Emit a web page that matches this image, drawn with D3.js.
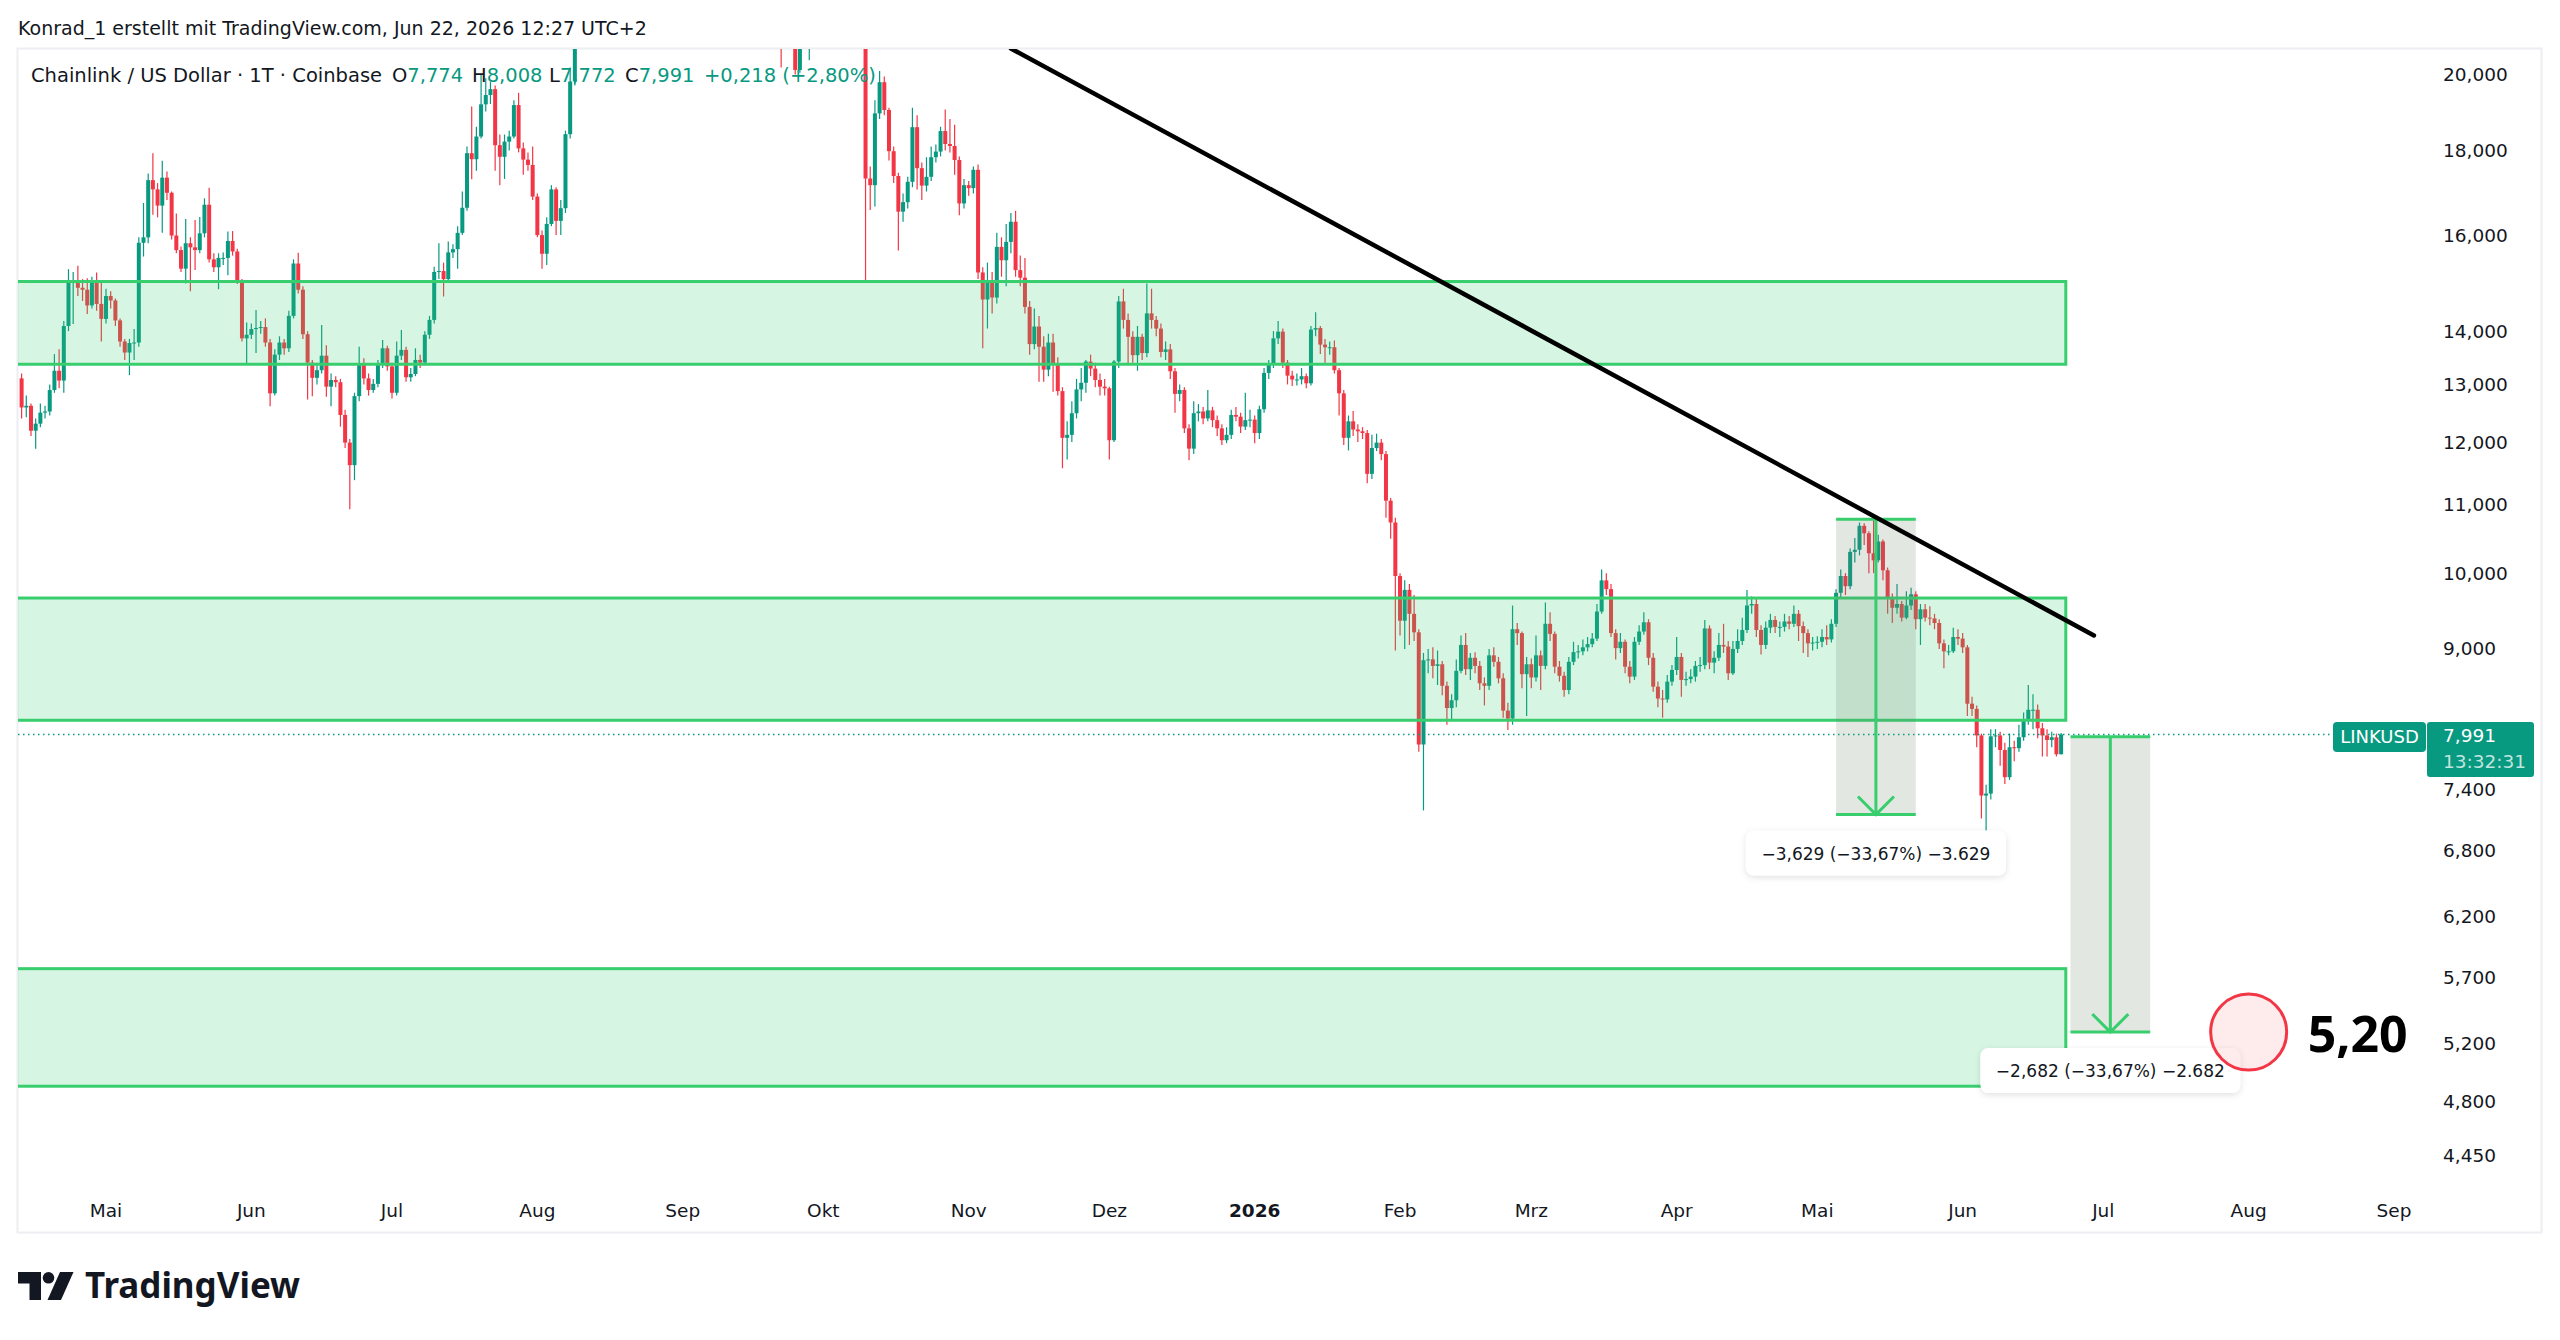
<!DOCTYPE html>
<html>
<head>
<meta charset="utf-8">
<script src="https://cdn.jsdelivr.net/npm/d3@7"></script>
<style>
  html, body { margin: 0; background: #fff; }
  svg { display: block; }
</style>
</head>
<body>
<svg id="chart" width="2560" height="1340"></svg>
<script>
// ---- data (LINKUSD daily, Coinbase) ----
var firstDay = "2025-04-13";
var firstOpen = 13.11;

var closes = [
  12.59,12.62,12.19,12.31,12.50,12.52,12.90,13.25,13.07,14.10,15.00,15.02,14.87,14.83,14.51,14.98,14.54,14.24,
  14.70,14.61,14.21,13.80,13.59,13.77,13.78,15.83,15.95,17.27,17.05,16.67,17.33,16.97,15.99,15.67,15.27,15.82,15.73,15.67,16.04,16.69,15.47,15.30,15.50,15.50,15.87,15.64,15.00,13.86,13.93,
  14.04,14.06,14.08,13.78,12.84,13.55,13.78,13.67,14.30,15.38,14.83,13.94,13.40,13.12,13.26,13.53,12.96,13.08,13.04,12.46,11.99,11.62,12.79,13.37,13.11,12.90,13.01,13.37,13.67,13.33,
  12.85,13.53,13.64,13.13,13.19,13.45,13.40,13.93,14.22,15.20,15.22,15.05,15.62,15.69,16.05,16.62,17.93,17.78,18.35,19.19,19.44,19.60,18.13,17.84,18.22,18.35,19.17,18.05,17.77,17.64,16.88,
  16.00,15.59,16.25,17.05,16.32,16.61,18.41,19.81,21.90,22.20,22.60,23.50,24.50,23.20,24.10,24.70,25.30,24.60,24.00,25.80,25.50,26.90,26.40,25.90,23.70,24.30,24.90,24.20,23.30,23.80,23.40,
  22.30,23.00,22.70,22.20,22.40,22.20,23.10,23.50,23.20,23.60,23.90,24.30,24.60,23.80,22.90,23.20,23.40,24.00,22.90,22.80,22.20,21.00,21.10,21.30,20.13,21.30,21.40,21.90,21.80,21.30,
  22.00,22.40,22.50,21.90,22.10,22.80,21.60,22.00,21.30,17.31,17.15,18.95,19.79,19.04,17.98,17.37,16.53,16.75,17.23,18.59,17.56,17.14,17.35,17.83,17.97,18.49,18.16,18.11,17.76,16.72,17.15,
  17.08,17.52,15.19,14.63,15.03,14.67,15.74,15.45,15.85,16.30,15.24,15.08,14.48,13.75,14.09,13.70,13.27,13.78,13.36,12.88,12.07,12.12,12.49,12.91,13.03,13.42,13.29,13.08,12.96,12.93,
  12.03,13.42,14.59,14.22,13.89,13.54,13.89,13.58,14.35,14.22,14.05,13.60,13.65,13.24,12.83,12.90,12.23,11.89,12.49,12.52,12.40,12.54,12.37,12.23,12.03,12.12,12.46,12.43,12.26,12.37,12.38,
  12.15,12.56,13.21,13.37,13.86,13.99,13.40,13.16,13.09,13.09,13.15,13.02,14.03,14.06,13.74,13.69,13.69,13.26,12.84,12.07,12.35,12.21,12.18,12.15,11.48,11.90,11.99,11.80,11.06,10.73,9.96,
  9.36,9.77,9.45,9.21,7.88,8.86,8.87,8.79,8.81,8.55,8.29,8.38,8.73,9.05,8.75,8.89,8.79,8.58,8.55,8.92,8.84,8.64,8.26,8.17,9.25,9.20,8.69,8.81,
  8.65,8.92,8.79,9.32,9.19,8.78,8.67,8.50,8.84,8.96,8.97,9.02,9.06,9.13,9.48,9.90,9.78,9.20,9.01,9.09,8.78,8.66,9.09,9.22,9.34,8.89,8.54,8.40,8.39,8.60,8.74,
  8.90,8.62,8.63,8.66,8.79,8.80,9.26,8.83,8.89,9.05,9.03,8.70,9.00,9.10,9.24,9.56,9.58,9.24,9.05,9.27,9.37,9.28,9.28,9.35,9.32,9.45,9.29,9.20,9.07,9.08,
  9.09,9.15,9.12,9.32,9.73,9.96,9.82,10.30,10.33,10.68,10.57,10.28,10.18,10.45,10.04,9.66,9.53,9.58,9.40,9.56,9.71,9.38,9.51,9.40,9.39,9.33,9.07,8.97,8.97,9.15,9.13,
  9.02,8.34,8.28,7.98,7.34,7.36,7.97,7.98,7.82,7.53,7.85,7.84,7.96,8.15,8.27,8.27,8.06,7.98,7.93,7.96,7.774,7.991
];

var highs = [
  13.20,12.80,12.66,12.40,12.66,12.62,13.00,13.56,13.65,14.20,15.26,15.20,15.33,15.05,15.07,15.10,15.19,15.00,
  14.85,14.80,14.65,14.25,13.85,13.85,14.04,15.95,16.73,17.43,17.93,17.20,17.74,17.48,17.00,16.49,15.75,16.36,15.95,16.34,16.41,16.84,17.09,15.60,15.60,15.62,16.08,16.09,15.70,15.05,14.17,
  14.15,14.42,14.20,14.25,13.85,13.65,13.90,13.85,14.40,15.47,15.61,14.90,14.00,13.45,13.40,14.12,13.73,13.20,13.15,13.10,12.55,12.05,12.85,13.70,13.48,13.20,13.10,13.45,13.83,13.72,
  13.40,13.80,14.02,13.70,13.30,13.67,13.55,14.00,14.30,15.31,15.82,15.40,15.86,15.80,16.20,17.00,18.10,19.13,18.60,20.00,19.90,19.80,19.70,18.40,18.40,18.50,19.30,19.50,18.20,17.95,18.10,
  16.95,16.10,16.40,17.15,17.10,16.80,18.50,20.20,22.40,22.90,23.20,23.90,24.90,24.80,24.50,25.20,25.80,25.60,24.90,26.20,26.30,27.40,27.80,26.60,26.00,24.70,25.30,25.10,24.40,24.10,24.00,
  23.50,23.30,23.40,22.90,22.90,22.60,23.30,23.90,23.70,24.00,24.30,24.70,25.00,24.80,23.90,23.60,23.90,24.40,24.10,23.20,22.90,22.30,21.60,21.80,21.40,21.60,21.80,22.10,22.40,22.00,
  22.30,22.80,22.90,22.70,22.40,23.20,23.00,22.30,22.20,21.60,17.60,19.30,20.10,19.95,19.10,18.10,17.45,16.95,17.35,19.10,18.90,17.70,17.83,18.10,18.15,18.60,19.05,18.80,18.65,17.85,17.30,
  17.25,17.60,17.65,15.30,15.40,15.20,16.05,15.95,16.25,16.50,16.55,15.55,15.50,14.60,14.45,14.30,13.90,13.95,13.95,13.50,12.95,12.35,12.70,13.10,13.30,13.45,13.55,13.40,13.20,13.10,
  12.96,13.45,14.70,14.85,14.35,14.00,14.10,13.95,14.96,14.85,14.30,14.15,13.80,13.75,13.30,13.00,12.95,12.30,12.70,12.65,12.60,12.90,12.60,12.45,12.30,12.25,12.55,12.60,12.50,12.85,12.55,
  12.45,12.62,13.30,13.45,14.00,14.20,14.05,13.45,13.25,13.20,13.30,13.20,14.10,14.37,14.10,13.85,13.80,13.82,13.30,12.90,12.45,12.53,12.30,12.25,12.20,12.12,12.14,12.05,11.85,11.10,10.80,
  10.00,9.90,9.85,9.70,9.25,8.95,9.00,9.02,8.98,8.85,8.60,8.45,8.87,9.17,9.20,8.95,8.96,8.85,8.65,9.00,9.02,8.90,8.70,8.35,9.56,9.33,9.22,8.90,
  8.88,9.17,8.98,9.60,9.47,9.22,8.85,8.72,8.90,9.09,9.05,9.12,9.15,9.20,9.58,10.05,10.00,9.85,9.25,9.20,9.12,8.85,9.15,9.30,9.47,9.38,8.95,8.60,8.50,8.68,8.80,
  9.15,8.95,8.72,8.75,8.85,8.90,9.37,9.30,8.97,9.20,9.32,9.10,9.10,9.25,9.40,9.77,9.68,9.65,9.30,9.35,9.45,9.42,9.35,9.45,9.42,9.56,9.50,9.35,9.25,9.15,
  9.16,9.25,9.30,9.38,9.78,10.05,10.00,10.35,10.50,10.73,10.72,10.60,10.78,10.55,10.48,10.08,9.72,9.85,9.62,9.75,9.80,9.75,9.58,9.58,9.55,9.45,9.38,9.12,9.05,9.27,9.25,
  9.20,9.05,8.42,8.32,8.00,7.45,8.05,8.05,8.02,7.90,8.00,7.92,8.10,8.24,8.56,8.45,8.33,8.12,8.05,8.02,8.00,8.008
];

var lows = [
  12.40,12.42,12.10,11.89,12.25,12.40,12.45,12.85,12.93,12.85,14.00,14.14,14.70,14.60,14.34,14.45,14.40,13.80,
  14.15,14.45,14.10,13.70,13.45,13.17,13.45,13.70,15.53,15.82,16.46,16.40,16.05,16.80,15.90,15.60,15.20,14.96,14.80,15.24,15.60,15.95,15.40,15.20,14.84,15.35,15.13,15.55,14.95,13.80,13.37,
  13.85,13.58,13.95,13.70,12.61,12.80,13.45,13.55,13.60,14.25,14.75,13.85,12.73,12.79,13.00,13.20,12.78,12.61,12.95,12.26,11.90,10.93,11.38,12.70,13.00,12.80,12.85,12.95,13.30,13.25,
  12.75,12.80,13.45,13.05,13.05,13.15,13.30,13.35,13.85,14.15,15.05,14.69,15.00,15.50,15.27,16.00,16.55,17.29,17.50,18.30,19.00,19.20,17.50,17.15,17.30,18.00,18.30,17.95,17.40,17.50,16.80,
  15.95,15.27,15.35,16.20,16.00,16.00,16.50,18.30,19.70,21.50,21.80,22.30,23.30,22.80,22.90,23.90,24.40,24.10,23.40,23.80,25.00,25.30,26.00,25.40,23.40,23.20,24.00,23.90,22.90,23.00,23.10,
  21.90,22.10,22.40,21.80,21.80,21.90,22.10,22.90,22.80,22.90,23.40,23.70,24.10,23.50,22.50,22.60,22.90,23.20,22.70,22.40,21.80,20.20,20.80,20.90,20.00,20.05,21.00,20.40,21.30,21.00,
  21.10,21.80,22.00,21.60,21.70,21.90,21.30,21.20,20.90,14.98,16.57,16.65,18.80,18.90,17.75,17.20,15.66,16.30,16.60,17.10,17.05,16.80,17.00,17.25,17.70,17.85,18.00,17.95,17.40,16.45,16.60,
  16.90,16.95,15.05,13.67,14.05,14.35,14.55,15.10,14.90,15.60,15.10,14.90,14.35,13.55,13.65,13.05,13.05,13.15,12.87,12.80,11.57,11.71,12.00,12.40,12.70,12.85,13.15,12.95,12.80,12.80,
  11.71,12.00,13.30,14.05,13.35,13.40,13.25,13.45,13.50,14.05,13.90,13.50,13.45,13.10,12.50,12.70,12.15,11.70,11.80,12.35,12.30,12.35,12.25,12.10,11.95,11.98,12.05,12.35,12.15,12.20,12.25,
  11.98,12.05,12.50,13.10,13.30,13.75,13.30,13.00,12.97,12.98,13.00,12.93,12.98,13.90,13.56,13.40,13.55,13.20,12.45,11.95,11.86,12.10,12.00,12.05,11.33,11.40,11.85,11.70,10.80,10.49,8.98,
  9.17,9.00,9.05,9.10,7.80,7.19,8.70,8.64,8.56,8.44,8.10,8.16,8.30,8.70,8.68,8.62,8.70,8.50,8.32,8.50,8.78,8.58,8.18,8.04,8.10,9.05,8.52,8.20,
  8.52,8.60,8.50,8.75,9.10,8.70,8.60,8.42,8.45,8.80,8.88,8.92,8.97,9.02,9.10,9.45,9.70,9.15,8.87,8.95,8.70,8.58,8.62,9.05,9.18,8.80,8.48,8.30,8.18,8.35,8.55,
  8.68,8.42,8.55,8.58,8.60,8.72,8.75,8.75,8.70,8.85,8.95,8.62,8.68,8.95,9.05,9.20,9.45,9.15,8.93,9.00,9.20,9.20,9.15,9.22,9.25,9.28,9.10,8.95,8.90,8.98,
  9.00,9.02,9.05,9.08,9.28,9.65,9.70,9.78,10.15,10.25,10.40,10.00,10.00,10.15,9.90,9.45,9.33,9.45,9.35,9.38,9.50,9.25,9.05,9.35,9.30,9.25,9.00,8.76,8.92,8.95,9.05,
  8.95,8.20,8.20,7.85,7.11,6.99,7.30,7.85,7.65,7.46,7.50,7.70,7.80,7.92,8.10,8.05,7.95,7.75,7.75,7.85,7.75,7.772
];

var monthTicks = [
  ["2025-05-01", "Mai"], ["2025-06-01", "Jun"], ["2025-07-01", "Jul"], ["2025-08-01", "Aug"],
  ["2025-09-01", "Sep"], ["2025-10-01", "Okt"], ["2025-11-01", "Nov"], ["2025-12-01", "Dez"],
  ["2026-01-01", "2026"], ["2026-02-01", "Feb"], ["2026-03-01", "Mrz"], ["2026-04-01", "Apr"],
  ["2026-05-01", "Mai"], ["2026-06-01", "Jun"], ["2026-07-01", "Jul"], ["2026-08-01", "Aug"],
  ["2026-09-01", "Sep"]
];
var priceTicks = [20, 18, 16, 14, 13, 12, 11, 10, 9, 7.4, 6.8, 6.2, 5.7, 5.2, 4.8, 4.45];

var zones = [
  { from: "2025-03-20", to: "2026-06-23", low: 13.37, high: 15.00 },
  { from: "2025-03-20", to: "2026-06-23", low: 8.15, high: 9.66 },
  { from: "2025-03-20", to: "2026-06-23", low: 4.90, high: 5.77 }
];
var measures = [
  { from: "2026-05-05", to: "2026-05-22", top: 10.778, bottom: 7.149, label: "\u22123,629 (\u221233,67%) \u22123.629" },
  { from: "2026-06-24", to: "2026-07-11", top: 7.965, bottom: 5.283, label: "\u22122,682 (\u221233,67%) \u22122.682" }
];
var trendLine = [["2025-11-10", 20.74], ["2026-06-29", 9.17]];
var target = { date: "2026-08-01", price: 5.283, label: "5,20" };
var lastPrice = 7.991;
var legendValues = ["7,774", "8,008", "7,772", "7,991", "+0,218 (+2,80%)"];

// ---- setup ----
var svg = d3.select("#chart");
var W = 2560, H = 1340;
var up = "#089981", down = "#f23645", ink = "#131722", zoneGreen = "#38ce6e";
var uiFont = "'DejaVu Sans', sans-serif";

var plot = { left: 18, top: 49, right: 2416, bottom: 1190 };

var parse = d3.utcParse("%Y-%m-%d");
var x = d3.scaleUtc()
    .domain([parse("2025-05-01"), parse("2026-09-01")])
    .range([106, 2394]);
var y = d3.scaleLog()
    .domain([4.45, 20])
    .range([1155.5, 74.6]);

var de = d3.formatLocale({ decimal: ",", thousands: ".", grouping: [3], currency: ["", ""] });
var fmt3 = de.format(".3f");

var day0 = parse(firstDay);
var candles = closes.map(function (c, i) {
    return {
        date: d3.utcDay.offset(day0, i),
        open: i ? closes[i - 1] : firstOpen,   // crypto: each day opens at prior close
        close: c,
        high: highs[i],
        low: lows[i]
    };
});

svg.append("rect").attr("width", W).attr("height", H).attr("fill", "#fff");

var defs = svg.append("defs");
defs.append("clipPath").attr("id", "plot-clip")
    .append("rect")
    .attr("x", plot.left).attr("y", plot.top)
    .attr("width", plot.right - plot.left).attr("height", plot.bottom - plot.top);
var shadow = defs.append("filter").attr("id", "shadow")
    .attr("x", "-10%").attr("y", "-30%").attr("width", "120%").attr("height", "170%");
shadow.append("feDropShadow")
    .attr("dx", 0).attr("dy", 2).attr("stdDeviation", 3)
    .attr("flood-color", "#000").attr("flood-opacity", 0.12);

// header
svg.append("text")
    .attr("x", 18).attr("y", 35)
    .style("font-family", uiFont).style("font-size", "19px").attr("fill", ink)
    .text("Konrad_1 erstellt mit TradingView.com, Jun 22, 2026 12:27 UTC+2");

// frame
svg.append("rect")
    .attr("x", 17.5).attr("y", 48.5).attr("width", 2524).attr("height", 1184)
    .attr("fill", "none").attr("stroke", "#eceef2").attr("stroke-width", 2);

var g = svg.append("g").attr("clip-path", "url(#plot-clip)");

// candles
var bw = 4;
var candleG = g.append("g");
candleG.selectAll("line.wick")
    .data(candles)
    .enter().append("line")
    .attr("class", "wick")
    .attr("x1", function (d) { return x(d.date); })
    .attr("x2", function (d) { return x(d.date); })
    .attr("y1", function (d) { return y(d.high); })
    .attr("y2", function (d) { return y(d.low); })
    .attr("stroke", function (d) { return d.close >= d.open ? up : down; })
    .attr("stroke-width", 1.2);
candleG.selectAll("rect.body")
    .data(candles)
    .enter().append("rect")
    .attr("class", "body")
    .attr("x", function (d) { return x(d.date) - bw / 2; })
    .attr("width", bw)
    .attr("y", function (d) { return y(Math.max(d.open, d.close)); })
    .attr("height", function (d) {
        return Math.max(1, y(Math.min(d.open, d.close)) - y(Math.max(d.open, d.close)));
    })
    .attr("fill", function (d) { return d.close >= d.open ? up : down; });

// zones
g.selectAll("rect.zone")
    .data(zones)
    .enter().append("rect")
    .attr("class", "zone")
    .attr("x", function (d) { return x(parse(d.from)); })
    .attr("width", function (d) { return x(parse(d.to)) - x(parse(d.from)); })
    .attr("y", function (d) { return y(d.high); })
    .attr("height", function (d) { return y(d.low) - y(d.high); })
    .attr("fill", "#32cd6e").attr("fill-opacity", 0.2)
    .attr("stroke", zoneGreen).attr("stroke-width", 3);

// measurement boxes
var mG = g.selectAll("g.measure")
    .data(measures)
    .enter().append("g").attr("class", "measure");
mG.each(function (d) {
    var sel = d3.select(this);
    var x0 = x(parse(d.from)), x1 = x(parse(d.to)), mx = (x0 + x1) / 2;
    var yt = y(d.top), yb = y(d.bottom);
    sel.append("rect")
        .attr("x", x0).attr("y", yt).attr("width", x1 - x0).attr("height", yb - yt)
        .attr("fill", "rgb(110,135,110)").attr("fill-opacity", 0.2);
    sel.append("path")
        .attr("d", "M" + x0 + "," + yt + "H" + x1 + "M" + x0 + "," + yb + "H" + x1 +
            "M" + mx + "," + yt + "V" + yb +
            "M" + (mx - 18) + "," + (yb - 18) + "L" + mx + "," + yb + "L" + (mx + 18) + "," + (yb - 18))
        .attr("fill", "none").attr("stroke", zoneGreen).attr("stroke-width", 3);
});

// trend line
g.append("line")
    .attr("x1", x(parse(trendLine[0][0]))).attr("y1", y(trendLine[0][1]))
    .attr("x2", x(parse(trendLine[1][0]))).attr("y2", y(trendLine[1][1]))
    .attr("stroke", "#000").attr("stroke-width", 4.5).attr("stroke-linecap", "round");

// last price dotted line
var yLast = y(lastPrice);
svg.append("line")
    .attr("x1", plot.left).attr("x2", 2333)
    .attr("y1", yLast).attr("y2", yLast)
    .attr("stroke", up).attr("stroke-width", 1.5).attr("stroke-dasharray", "1.5,3.5");

// measure labels
measures.forEach(function (d) {
    var mx = (x(parse(d.from)) + x(parse(d.to))) / 2;
    var top = y(d.bottom) + 16;
    svg.append("rect")
        .attr("x", mx - 130).attr("y", top).attr("width", 260).attr("height", 45)
        .attr("rx", 8).attr("fill", "#fff").attr("filter", "url(#shadow)");
    svg.append("text")
        .attr("x", mx).attr("y", top + 29)
        .attr("text-anchor", "middle")
        .style("font-family", uiFont).style("font-size", "17px").attr("fill", ink)
        .text(d.label);
});

// target marker
var cx = x(parse(target.date)), cy = y(target.price);
svg.append("circle")
    .attr("cx", cx).attr("cy", cy).attr("r", 38)
    .attr("fill", "#f23645").attr("fill-opacity", 0.1)
    .attr("stroke", "#f23645").attr("stroke-width", 3);
svg.append("text")
    .attr("x", cx + 59).attr("y", cy + 20)
    .style("font-family", "'Noto Sans', sans-serif").style("font-size", "50px").style("font-weight", 700)
    .attr("fill", "#000")
    .text(target.label);

// legend
var legend = svg.append("text")
    .attr("y", 82)
    .style("font-family", uiFont).style("font-size", "19.5px").attr("fill", ink);
legend.append("tspan").attr("x", 31).text("Chainlink / US Dollar \u00b7 1T \u00b7 Coinbase");
var legendKeys = [["O", 392], ["H", 472], ["L", 549], ["C", 625]];
legendKeys.forEach(function (k, i) {
    legend.append("tspan").attr("x", k[1]).attr("fill", ink).text(k[0]);
    legend.append("tspan").attr("fill", up).text(legendValues[i]);
});
legend.append("tspan").attr("x", 704).attr("fill", up).text(legendValues[4]);

// price axis
svg.append("g").selectAll("text")
    .data(priceTicks)
    .enter().append("text")
    .attr("x", 2443)
    .attr("y", function (d) { return y(d) + 6.5; })
    .style("font-family", uiFont).style("font-size", "18.5px").attr("fill", ink)
    .text(function (d) { return fmt3(d); });

// time axis
svg.append("g").selectAll("text")
    .data(monthTicks)
    .enter().append("text")
    .attr("x", function (d) { return x(parse(d[0])); })
    .attr("y", 1216.5)
    .attr("text-anchor", "middle")
    .style("font-family", uiFont).style("font-size", "18.5px")
    .style("font-weight", function (d) { return d[1] === "2026" ? 700 : 400; })
    .attr("fill", ink)
    .text(function (d) { return d[1]; });

// last price tags
var tagTop = yLast - 12.5;
svg.append("rect")
    .attr("x", 2333).attr("y", tagTop).attr("width", 93).attr("height", 30)
    .attr("rx", 4).attr("fill", up);
svg.append("text")
    .attr("x", 2379.5).attr("y", tagTop + 21.5)
    .attr("text-anchor", "middle")
    .style("font-family", uiFont).style("font-size", "18px").attr("fill", "#fff")
    .text("LINKUSD");
svg.append("rect")
    .attr("x", 2427).attr("y", tagTop).attr("width", 107).attr("height", 55)
    .attr("rx", 3).attr("fill", up);
svg.append("text")
    .attr("x", 2443).attr("y", tagTop + 20)
    .style("font-family", uiFont).style("font-size", "18.5px").attr("fill", "#fff")
    .text(fmt3(lastPrice));
svg.append("text")
    .attr("x", 2443).attr("y", tagTop + 46)
    .style("font-family", uiFont).style("font-size", "18.5px").attr("fill", "#fff").attr("fill-opacity", 0.75)
    .text("13:32:31");

// TradingView logo
var logo = svg.append("g").attr("transform", "translate(18,1272)").attr("fill", ink);
logo.append("path").attr("d", "M0,0H23V28H11.5V11.5H0Z");
logo.append("circle").attr("cx", 30.5).attr("cy", 5.8).attr("r", 5.8);
logo.append("path").attr("d", "M42,0H55.5L43,28H29.5Z");
svg.append("text")
    .attr("x", 85).attr("y", 1298)
    .attr("textLength", 215).attr("lengthAdjust", "spacingAndGlyphs")
    .style("font-family", "'Noto Sans', sans-serif").style("font-size", "36px").style("font-weight", 700)
    .attr("fill", ink)
    .text("TradingView");
</script>
</body>
</html>
